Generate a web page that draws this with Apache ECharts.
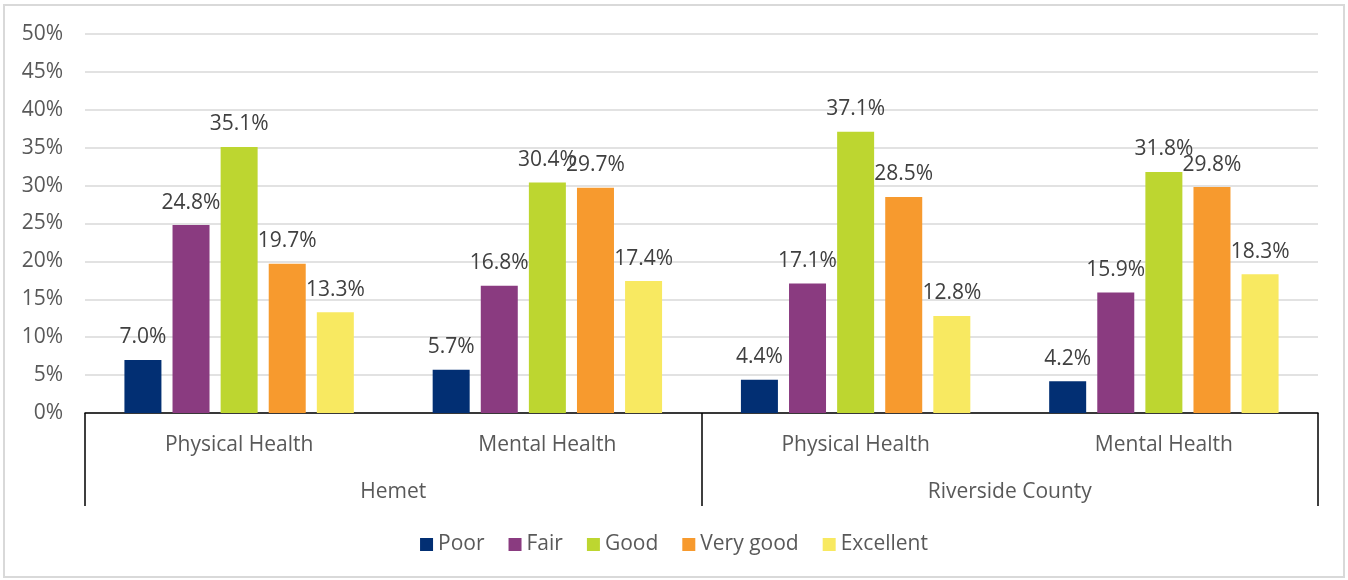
<!DOCTYPE html>
<html>
<head>
<meta charset="utf-8">
<script src="https://cdn.jsdelivr.net/npm/echarts@6/dist/echarts.min.js"></script>
<style>
  html, body { margin: 0; padding: 0; background: #fff; }
  #main { width: 1348px; height: 580px; }
</style>
</head>
<body>
<div id="main"></div>
<script>
// 数据
var subCategories = ['Physical Health', 'Mental Health', 'Physical Health', 'Mental Health'];
var groups = ['Hemet', 'Riverside County'];
var seriesNames = ['Poor', 'Fair', 'Good', 'Very good', 'Excellent'];
var colors = ['#022f73', '#8a3b80', '#bdd630', '#f79a2e', '#f8e961'];

var poor = [7.0, 5.7, 4.4, 4.2];
var fair = [24.8, 16.8, 17.1, 15.9];
var good = [35.1, 30.4, 37.1, 31.8];
var veryGood = [19.7, 29.7, 28.5, 29.8];
var excellent = [13.3, 17.4, 12.8, 18.3];
var seriesValues = [poor, fair, good, veryGood, excellent];

var yTicks = { min: 0, max: 50, interval: 5 };

var textFont = 'Open Sans';
var fontSize = 21;
var myChart = echarts.init(document.getElementById('main'));

var series = seriesNames.map(function (name, i) {
  return {
    name: name,
    type: 'bar',
    xAxisIndex: 0,
    data: seriesValues[i],
    barWidth: 37,
    barGap: '30%',
    itemStyle: { color: colors[i] },
    label: {
      show: true,
      position: 'top',
      distance: 12,
      color: '#404040',
      fontFamily: textFont,
      fontSize: fontSize,
      formatter: function (p) { return p.value.toFixed(1) + '%'; }
    }
  };
});

var option = {
  animation: false,
  color: colors,
  graphic: [{
    type: 'rect',
    shape: { x: 4, y: 5, width: 1340, height: 572 },
    style: { fill: 'none', stroke: '#d9d9d9', lineWidth: 2 }
  }],
  grid: { left: 85, right: 30, top: 34, bottom: 167 },
  legend: {
    bottom: 20,
    left: 'center',
    itemWidth: 13,
    itemHeight: 13,
    itemGap: 24,
    icon: 'rect',
    data: seriesNames,
    textStyle: { color: '#595959', fontFamily: textFont, fontSize: fontSize }
  },
  xAxis: [
    {
      type: 'category',
      data: subCategories,
      position: 'bottom',
      axisLine: { show: true, lineStyle: { color: '#000', width: 1.5 } },
      axisTick: { show: false },
      axisLabel: { margin: 22, color: '#595959', fontFamily: textFont, fontSize: fontSize }
    },
    {
      type: 'category',
      data: groups,
      position: 'bottom',
      axisLine: { show: false },
      axisTick: { show: true, length: 93, lineStyle: { color: '#000', width: 1.5 } },
      axisLabel: { margin: 69, color: '#595959', fontFamily: textFont, fontSize: fontSize }
    }
  ],
  yAxis: {
    type: 'value',
    min: yTicks.min,
    max: yTicks.max,
    interval: yTicks.interval,
    axisLine: { show: false },
    axisTick: { show: false },
    axisLabel: { margin: 22, color: '#595959', fontFamily: textFont, fontSize: fontSize, formatter: '{value}%' },
    splitLine: { lineStyle: { color: '#d9d9d9', width: 1.5 } }
  },
  series: series
};

myChart.setOption(option);
</script>
</body>
</html>
